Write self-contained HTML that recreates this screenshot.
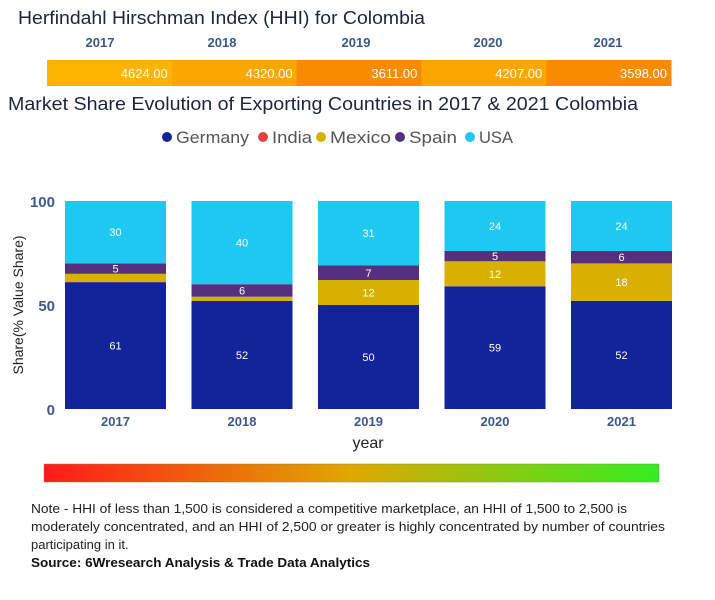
<!DOCTYPE html>
<html><head><meta charset="utf-8"><style>
html,body{margin:0;padding:0;background:#fff;}
svg{display:block;font-family:"Liberation Sans",sans-serif;}
</style></head><body>
<svg id="root" width="715" height="600" viewBox="0 0 715 600">
  <text x="18" y="24" font-size="18" fill="#1b2540" textLength="407" lengthAdjust="spacingAndGlyphs">Herfindahl Hirschman Index (HHI) for Colombia</text>
  <g id="hhi"></g>
  <text x="8" y="110" font-size="18" fill="#1b2540" textLength="630" lengthAdjust="spacingAndGlyphs">Market Share Evolution of Exporting Countries in 2017 &amp; 2021 Colombia</text>
  <g id="legend"></g>
  <g id="plot"></g>
  <text transform="translate(23,305) rotate(-90)" text-anchor="middle" font-size="14" fill="#222">Share(% Value Share)</text>
  <text x="368" y="448" text-anchor="middle" font-size="16" fill="#222">year</text>
  <defs><linearGradient id="grad" x1="0" x2="1"><stop offset="0" stop-color="#ff1a1a"/><stop offset="0.5" stop-color="#e0a800"/><stop offset="1" stop-color="#33ee22"/></linearGradient></defs>
  <rect x="44" y="464" width="615" height="18" fill="url(#grad)" stroke="#7a8a50" stroke-width="0.5"/>
  <g font-size="13" fill="#222">
    <text x="31" y="513" textLength="596" lengthAdjust="spacingAndGlyphs">Note - HHI of less than 1,500 is considered a competitive marketplace, an HHI of 1,500 to 2,500 is</text>
    <text x="31" y="531" textLength="634" lengthAdjust="spacingAndGlyphs">moderately concentrated, and an HHI of 2,500 or greater is highly concentrated by number of countries</text>
    <text x="31" y="549">participating in it.</text>
  </g>
  <text x="31" y="567" font-size="13" font-weight="bold" fill="#111" textLength="339" lengthAdjust="spacingAndGlyphs">Source: 6Wresearch Analysis &amp; Trade Data Analytics</text>
</svg>
<script>
const years = ["2017","2018","2019","2020","2021"];
const hhiValues = [4624, 4320, 3611, 4207, 3598];
const germany = [61, 52, 50, 59, 52];
const india = [0, 0, 0, 0, 0];
const mexico = [4, 2, 12, 12, 18];
const spain = [5, 6, 7, 5, 6];
const usa = [30, 40, 31, 24, 24];
const yTicks = [0, 50, 100];

const NS = "http://www.w3.org/2000/svg";
function mk(tag, attrs, parent){const e=document.createElementNS(NS,tag);for(const k in attrs)e.setAttribute(k,attrs[k]);parent.appendChild(e);return e;}

// HHI strip
const hhi = document.getElementById('hhi');
const stripX0 = 47, stripX1 = 671;
const segW = (stripX1 - stripX0) / years.length;
const yearLabelX = [100, 222, 356, 488, 608];
function hhiColor(v){ return v >= 4200 ? (v>=4500?"#fdb400":"#fca600") : "#f98b00"; }
years.forEach((y,i)=>{
  const x = stripX0 + i*segW;
  const r = mk('rect',{x:x,y:60,width:segW+0.5,height:26,fill:hhiColor(hhiValues[i])},hhi);
  
  
  const t = mk('text',{x:x+segW-4,y:78,'text-anchor':'end','font-size':13,fill:'#fff'},hhi);
  t.textContent = hhiValues[i].toFixed(2);
  
  
  const yl = mk('text',{x:yearLabelX[i],y:47,'text-anchor':'middle','font-size':13,'font-weight':'bold',fill:'#3a5a8c'},hhi);
  yl.textContent = y;
  
  
});

// Legend
const series = [
  {name:"Germany",color:"#13239a",data:germany},
  {name:"India",color:"#e84040",data:india},
  {name:"Mexico",color:"#d8b000",data:mexico},
  {name:"Spain",color:"#55307f",data:spain},
  {name:"USA",color:"#1ec8f0",data:usa}
];
const lg = document.getElementById('legend');
const legX = [167, 263, 321, 400, 470];
const legW = [73, 40, 61, 48, 34];
series.forEach((s,i)=>{
  const g = mk('g',{},lg);
  
  
  mk('circle',{cx:legX[i],cy:137,r:5,fill:s.color},g);
  const t = mk('text',{x:legX[i]+9,y:143,'font-size':17,fill:'#555',textLength:legW[i],lengthAdjust:'spacingAndGlyphs'},g);
  t.textContent = s.name;
});

// Plot
const plot = document.getElementById('plot');
const y0px = 409, y100px = 201;
function yScale(v){ return y0px - (y0px - y100px) * v / 100; }
const band0 = 65, bandStep = 126.5, barW = 101;
function xScale(i){ return band0 + i*bandStep; }
yTicks.forEach(t=>{
  const tx = mk('text',{x:55,y:yScale(t)+6,'text-anchor':'end','font-size':15,'font-weight':'bold',fill:'#3d5a8a'},plot);
  tx.textContent = t;
  
  
});
years.forEach((y,i)=>{
  let cum = 0;
  series.forEach(s=>{
    const v = s.data[i];
    if(v<=0) return;
    const top = yScale(cum+v), bot = yScale(cum);
    const r = mk('rect',{x:xScale(i),y:top,width:barW,height:bot-top,fill:s.color},plot);
    
    
    if(v>=5){
      const t = mk('text',{x:xScale(i)+barW/2,y:(top+bot)/2+4,'text-anchor':'middle','font-size':11,fill:'#fff'},plot);
      t.textContent = v;
      
      
    }
    cum += v;
  });
  const xl = mk('text',{x:xScale(i)+barW/2,y:426,'text-anchor':'middle','font-size':13,'font-weight':'bold',fill:'#3d5a8a'},plot);
  xl.textContent = y;
  
  
});
</script>
</body></html>
